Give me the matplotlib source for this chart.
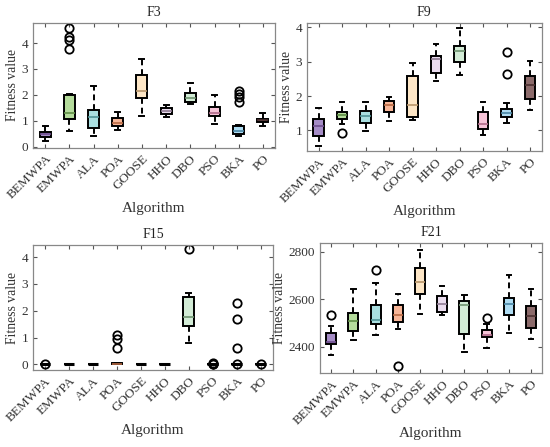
import matplotlib
matplotlib.use("Agg")
import matplotlib.pyplot as plt

plt.rcParams["font.family"] = ["Liberation Serif", "DejaVu Serif"]

algorithms = ["BEMWPA", "EMWPA", "ALA", "POA", "GOOSE", "HHO", "DBO", "PSO", "BKA", "PO"]

# box colours (fill) and median colours
fill_colors = ["#a58cc6", "#b5dc9c", "#a9dfe0", "#f7b597", "#fde6c6",
               "#eadcee", "#d3ecd6", "#f6c3d7", "#aedcf2", "#8c6b6b"]
median_colors = ["#6e4e8e", "#5f8f46", "#4f9497", "#b86a44", "#b8956a",
                 "#8e7a92", "#6f9470", "#b06a88", "#4a86a4", "#4a3030"]

# F3: whislo, q1, median, q3, whishi, fliers
f3_whislo = [0.20, 0.62, 0.40, 0.63, 1.18, 1.13, 1.63, 0.88, 0.43, 0.78]
f3_q1 = [0.36, 1.06, 0.73, 0.80, 1.89, 1.27, 1.73, 1.20, 0.50, 0.95]
f3_med = [0.47, 1.31, 1.14, 0.93, 2.15, 1.37, 1.88, 1.28, 0.62, 1.02]
f3_q3 = [0.57, 2.00, 1.43, 1.10, 2.76, 1.48, 2.07, 1.52, 0.79, 1.08]
f3_whishi = [0.78, 2.05, 2.36, 1.35, 3.38, 1.60, 2.47, 1.98, 0.85, 1.28]
f3_fliers = [[], [3.78, 4.12, 4.25, 4.58], [], [], [], [], [], [], [1.72, 1.93, 2.05, 2.13], []]

# F9
f9_whislo = [0.56, 1.18, 0.97, 1.28, 1.30, 2.43, 2.60, 0.87, 1.23, 1.60]
f9_q1 = [0.85, 1.33, 1.22, 1.53, 1.38, 2.68, 2.98, 1.03, 1.40, 1.93]
f9_med = [1.13, 1.45, 1.42, 1.73, 1.75, 3.08, 3.30, 1.18, 1.50, 2.32]
f9_q3 = [1.32, 1.55, 1.57, 1.85, 2.58, 3.18, 3.45, 1.53, 1.63, 2.58]
f9_whishi = [1.66, 1.83, 1.83, 1.96, 2.95, 3.52, 3.97, 1.82, 1.80, 3.03]
f9_fliers = [[], [0.92], [], [], [], [], [], [], [2.65, 3.27], []]

# F15
f15_whislo = [0.0, 0.0, 0.0, 0.0, 0.0, 0.0, 0.81, 0.0, 0.0, 0.0]
f15_q1 = [0.0, 0.0, 0.0, 0.01, 0.0, 0.0, 1.44, 0.0, 0.0, 0.0]
f15_med = [0.0, 0.0, 0.0, 0.03, 0.0, 0.0, 1.78, 0.0, 0.0, 0.0]
f15_q3 = [0.0, 0.0, 0.0, 0.05, 0.0, 0.0, 2.52, 0.0, 0.0, 0.0]
f15_whishi = [0.0, 0.0, 0.0, 0.07, 0.0, 0.0, 2.65, 0.0, 0.0, 0.0]
f15_fliers = [[0.0], [], [], [0.60, 0.95, 1.10], [], [], [4.29],
              [0.01, 0.03, 0.06], [0.0, 0.60, 1.68, 2.30], [0.01]]

# F21
f21_whislo = [2368, 2430, 2450, 2477, 2537, 2535, 2377, 2395, 2460, 2433]
f21_q1 = [2411, 2465, 2495, 2505, 2625, 2548, 2455, 2440, 2535, 2480]
f21_med = [2422, 2510, 2515, 2533, 2672, 2580, 2578, 2452, 2582, 2530]
f21_q3 = [2460, 2542, 2575, 2578, 2733, 2615, 2592, 2470, 2605, 2572]
f21_whishi = [2488, 2643, 2670, 2622, 2808, 2658, 2618, 2497, 2705, 2645]
f21_fliers = [[2533], [], [2722], [2318], [], [], [], [2523], [], []]

panels = [
    ("F3", f3_whislo, f3_q1, f3_med, f3_q3, f3_whishi, f3_fliers,
     [0.06, 0.669, 0.44, 0.28], (-0.05, 4.78), [0, 1, 2, 3, 4]),
    ("F9", f9_whislo, f9_q1, f9_med, f9_q3, f9_whishi, f9_fliers,
     [0.558, 0.662, 0.427, 0.286], (0.40, 4.12), [1, 2, 3, 4]),
    ("F15", f15_whislo, f15_q1, f15_med, f15_q3, f15_whishi, f15_fliers,
     [0.06, 0.172, 0.436, 0.28], (-0.21, 4.45), [0, 1, 2, 3, 4]),
    ("F21", f21_whislo, f21_q1, f21_med, f21_q3, f21_whishi, f21_fliers,
     [0.582, 0.1655, 0.4036, 0.291], (2290, 2838), [2400, 2600, 2800]),
]

fig = plt.figure(figsize=(5.5, 4.47), dpi=100)
fig.patch.set_facecolor("white")

for title, wlo, q1, med, q3, whi, fl, rect, ylim, yticks in panels:
    ax = fig.add_axes(rect)
    stats = []
    for i in range(len(algorithms)):
        stats.append({
            "whislo": wlo[i], "q1": q1[i], "med": med[i], "q3": q3[i],
            "whishi": whi[i], "fliers": fl[i], "label": algorithms[i],
        })
    bp = ax.bxp(
        stats,
        widths=0.45,
        patch_artist=True,
        showfliers=True,
        boxprops=dict(edgecolor="black", linewidth=1.4),
        whiskerprops=dict(color="black", linewidth=1.4, linestyle=(0, (3, 2))),
        capprops=dict(color="black", linewidth=1.4),
        flierprops=dict(marker="o", markerfacecolor="none", markeredgecolor="black",
                        markersize=6, markeredgewidth=1.3),
        medianprops=dict(linewidth=1.2),
        capwidths=0.2,
    )
    for patch, fc in zip(bp["boxes"], fill_colors):
        patch.set_facecolor(fc)
    for i, (line, mc) in enumerate(zip(bp["medians"], median_colors)):
        # collapsed boxes show as a thick black dash
        if q3[i] - q1[i] == 0:
            line.set_color("black")
            line.set_linewidth(2.2)
        else:
            line.set_color(mc)

    ax.set_xlim(0.5, len(algorithms) + 0.5)
    ax.set_ylim(*ylim)
    ax.set_yticks(yticks)
    ax.set_xticklabels(algorithms, rotation=45, ha="right", rotation_mode="anchor")
    ax.tick_params(axis="both", direction="in", top=True, right=True, length=3,
                   width=0.8, color="#555555", labelsize=9.5, labelcolor="#333333")
    for spine in ax.spines.values():
        spine.set_color("#888888")
        spine.set_linewidth(0.9)

    ax.set_title(title, fontsize=10, color="#222222", pad=5)
    ax.set_ylabel("Fitness value", fontsize=9.8, color="#333333", labelpad=2)
    ax.set_xlabel("Algorithm", fontsize=11, color="#333333", labelpad=0)

plt.savefig("out.png", dpi=100, facecolor="white")
